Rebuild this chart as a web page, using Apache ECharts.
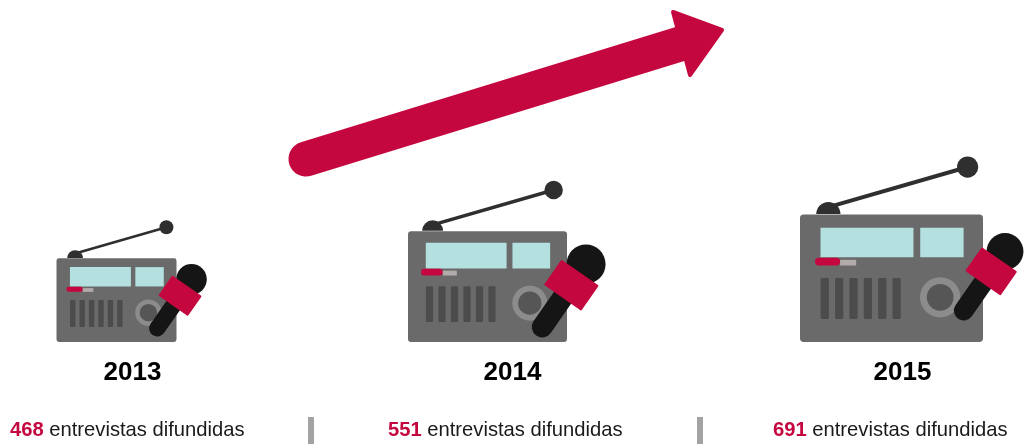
<!DOCTYPE html>
<html>
<head>
<meta charset="utf-8">
<style>html,body{margin:0;padding:0;background:#fff}#chart{width:1025px;height:444px}</style>
<script src="https://cdn.jsdelivr.net/npm/echarts@6/dist/echarts.min.js"></script>
</head>
<body>
<div id="chart"></div>
<script>
// Interviews broadcast per year
const years = ['2013', '2014', '2015'];
const interviews = [468, 551, 691];
const captionText = 'entrevistas difundidas';

// Palette
const CRIMSON = '#c5073f';
const BODY = '#6a6a6a';
const SLOT = '#4c4c4c';
const SCREEN = '#b5e0e0';
const DARK = '#2f2f2f';
const MIC = '#151515';

// Per-column drawing layout, one entry per year
const iconWidth = [120, 159, 183];
const iconShift = [0, -18, -3];
const yearShift = [16, 7, 8];
const captionShift = [-106.5, -117.5, -121.5];
const micHead = [[75, 21], [98.5, 33], [113.5, 37]];
const micLength = [68, 87, 82];

function renderColumn(params, api) {
  const i = api.value(0);
  const value = api.value(1);
  const base = api.coord([i, 0]);
  const band = api.size([1, 0])[0];
  const W = iconWidth[i];
  const H = W * 0.697;
  const cx = base[0] + iconShift[i];
  const left = cx - W / 2;
  const top = base[1] - H;
  const ux = u => left + u * W;
  const vy = v => top + v * W;
  const kids = [];
  const rect = (u, v, w, h, fill, r) => kids.push({
    type: 'rect',
    shape: { x: ux(u), y: vy(v), width: w * W, height: h * W, r: r || 0 },
    style: { fill }
  });
  const circle = (x, y, r, fill) => kids.push({ type: 'circle', shape: { cx: x, cy: y, r }, style: { fill } });
  const line = (x1, y1, x2, y2, lw, stroke) => kids.push({
    type: 'line',
    shape: { x1, y1, x2, y2 },
    style: { stroke, lineWidth: lw, lineCap: 'round' }
  });

  // Antenna
  kids.push({
    type: 'sector',
    shape: { cx: ux(0.155), cy: vy(-0.002), r0: 0, r: 0.066 * W, startAngle: Math.PI, endAngle: 2 * Math.PI },
    style: { fill: DARK }
  });
  line(ux(0.155), vy(-0.04), ux(0.916), vy(-0.259), 0.022 * W, DARK);
  circle(ux(0.916), vy(-0.259), 0.058 * W, DARK);

  // Cabinet, screens and controls
  rect(0, 0, 1, 0.697, BODY, 0.02 * W);
  rect(0.112, 0.073, 0.508, 0.161, SCREEN);
  rect(0.657, 0.073, 0.237, 0.161, SCREEN);
  rect(0.082, 0.237, 0.137, 0.042, CRIMSON, 0.02 * W);
  rect(0.219, 0.248, 0.088, 0.031, '#b3abab');
  for (let s = 0; s < 6; s++) rect(0.113 + s * 0.0785, 0.347, 0.045, 0.224, SLOT, 0.006 * W);
  circle(ux(0.766), vy(0.4526), 0.11 * W, '#8c8c8c');
  circle(ux(0.766), vy(0.4526), 0.073 * W, '#565656');

  // Microphone, laid out along its own tilted axis
  const L = micLength[i];
  const hx = cx + micHead[i][0];
  const hy = top + micHead[i][1];
  const d = [-0.572, 0.82];
  const n = [0.82, 0.572];
  const at = (t, s) => [hx + d[0] * t * L + n[0] * s * L, hy + d[1] * t * L + n[1] * s * L];
  const h0 = at(0.42, 0), h1 = at(0.88, 0);
  line(h0[0], h0[1], h1[0], h1[1], 0.24 * L, MIC);
  circle(hx, hy, 0.225 * L, MIC);
  kids.push({
    type: 'polygon',
    shape: { points: [at(0.13, -0.25), at(0.13, 0.25), at(0.46, 0.25), at(0.46, -0.25)] },
    style: { fill: CRIMSON, stroke: CRIMSON, lineWidth: 2, lineJoin: 'round' }
  });

  // Year and caption
  kids.push({
    type: 'text',
    style: {
      x: base[0] + yearShift[i], y: 372.5, text: years[i],
      fill: '#000', font: 'bold 26px "Liberation Sans", Arial, sans-serif',
      align: 'center', verticalAlign: 'middle'
    }
  });
  kids.push({
    type: 'text',
    style: {
      x: base[0] + captionShift[i], y: 430,
      text: '{n|' + value + ' }{t|' + captionText + '}',
      align: 'left', verticalAlign: 'middle',
      rich: {
        n: { fill: CRIMSON, font: 'bold 20.2px "Liberation Sans", Arial, sans-serif' },
        t: { fill: '#1a1a1a', font: '20.2px "Liberation Sans", Arial, sans-serif' }
      }
    }
  });

  // Divider on the right edge of every column but the last
  if (i < years.length - 1) {
    kids.push({
      type: 'rect',
      shape: { x: base[0] + band / 2 - 3, y: 417, width: 6, height: 27 },
      style: { fill: '#a3a3a3' }
    });
  }
  return { type: 'group', children: kids };
}

const chart = echarts.init(document.getElementById('chart'), null, { renderer: 'canvas' });
chart.setOption({
  animation: false,
  backgroundColor: '#fff',
  grid: { left: -78, top: 0, width: 1167, height: 342, outerBoundsMode: 'none' },
  xAxis: { type: 'category', data: years, show: false },
  yAxis: { type: 'value', min: 0, max: 1000, show: false },
  series: [{
    type: 'custom',
    silent: true,
    clip: false,
    renderItem: renderColumn,
    data: interviews.map((v, i) => [i, v]),
    encode: { x: 0, y: 1 }
  }],
  // Rising trend arrow above the columns
  graphic: [
    {
      type: 'line',
      silent: true,
      shape: { x1: 306, y1: 159, x2: 680, y2: 44 },
      style: { stroke: CRIMSON, lineWidth: 35, lineCap: 'round' }
    },
    {
      type: 'polygon',
      silent: true,
      shape: { points: [[673, 12], [722, 30], [690, 75]] },
      style: { fill: CRIMSON, stroke: CRIMSON, lineWidth: 4, lineJoin: 'round' }
    }
  ]
});
</script>
</body>
</html>
